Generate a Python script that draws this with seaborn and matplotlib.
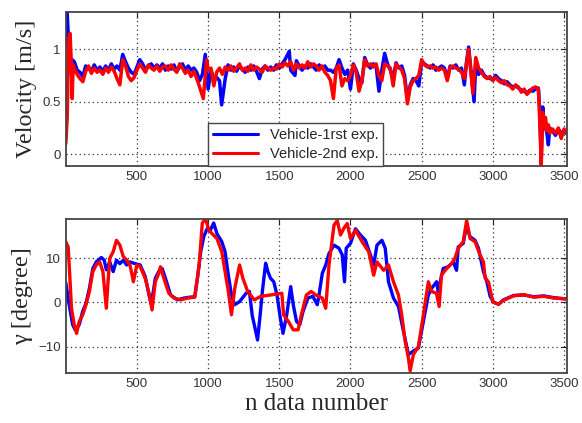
import pandas as pd
import matplotlib
matplotlib.use("Agg")
import matplotlib.pyplot as plt
import seaborn as sns

# velocity, 1st experiment (blue)
vel1_n = [0, 8, 15, 25, 35, 45,
          60, 80, 100, 120, 140, 160, 180, 200, 220, 240,
          260, 280, 300, 320, 340, 360, 380, 400, 420, 440,
          460, 480, 500, 520, 540, 560, 580, 600, 620, 640,
          660, 680, 700, 720, 740, 760, 780, 800, 820, 840,
          860, 880, 900, 920, 940, 960, 980, 1000, 1020, 1040,
          1060, 1080, 1095, 1120, 1140, 1160, 1180, 1200, 1220, 1240,
          1260, 1280, 1300, 1320, 1340, 1360, 1380, 1400, 1420, 1440,
          1460, 1480, 1500, 1520, 1540, 1570, 1580, 1610, 1620, 1640,
          1660, 1680, 1700, 1720, 1740, 1760, 1780, 1800, 1820, 1840,
          1860, 1880, 1900, 1920, 1940, 1960, 1980, 2000, 2020, 2040,
          2060, 2080, 2100, 2120, 2140, 2160, 2180, 2200, 2220, 2240,
          2260, 2280, 2300, 2320, 2340, 2360, 2380, 2400, 2420, 2440,
          2460, 2480, 2500, 2520, 2540, 2560, 2580, 2600, 2620, 2640,
          2660, 2680, 2700, 2720, 2740, 2760, 2780, 2800, 2815, 2830,
          2868, 2880, 2900, 2920, 2940, 2960, 2980, 3000, 3020, 3040,
          3060, 3080, 3100, 3120, 3140, 3160, 3180, 3200, 3220, 3240,
          3260, 3280, 3300, 3320, 3330, 3340, 3350, 3360, 3370, 3380,
          3390, 3400, 3420, 3440, 3460, 3480, 3500, 3515]
vel1 = [1.05, 1.40, 1.20, 0.95, 0.80, 0.90,
        0.88, 0.80, 0.78, 0.74, 0.84, 0.82, 0.79, 0.85, 0.80, 0.83,
        0.79, 0.84, 0.80, 0.86, 0.81, 0.84, 0.80, 0.95, 0.88, 0.82,
        0.78, 0.76, 0.83, 0.90, 0.86, 0.80, 0.84, 0.86, 0.82, 0.85,
        0.82, 0.86, 0.80, 0.84, 0.81, 0.85, 0.79, 0.83, 0.86, 0.80,
        0.84, 0.80, 0.82, 0.78, 0.70, 0.76, 0.95, 0.62, 0.80, 0.72,
        0.73, 0.70, 0.47, 0.72, 0.85, 0.80, 0.83, 0.79, 0.84, 0.81,
        0.78, 0.83, 0.80, 0.84, 0.79, 0.72, 0.81, 0.84, 0.80, 0.83,
        0.80, 0.85, 0.82, 0.86, 0.90, 0.98, 0.80, 0.75, 0.89, 0.84,
        0.80, 0.84, 0.82, 0.86, 0.83, 0.80, 0.85, 0.82, 0.84, 0.80,
        0.80, 0.78, 0.82, 0.90, 0.82, 0.76, 0.80, 0.62, 0.86, 0.80,
        0.72, 0.68, 0.92, 0.85, 0.82, 0.86, 0.84, 0.60, 0.80, 0.96,
        0.86, 0.80, 0.72, 0.87, 0.82, 0.84, 0.75, 0.52, 0.66, 0.72,
        0.70, 0.65, 0.88, 0.86, 0.84, 0.82, 0.85, 0.80, 0.82, 0.84,
        0.82, 0.72, 0.84, 0.82, 0.85, 0.80, 0.82, 0.66, 0.88, 1.02,
        0.50, 0.86, 0.76, 0.80, 0.75, 0.73, 0.72, 0.71, 0.75, 0.72,
        0.70, 0.67, 0.69, 0.66, 0.64, 0.65, 0.63, 0.61, 0.60, 0.58,
        0.61, 0.60, 0.62, 0.63, 0.40, -0.05, 0.45, 0.30, 0.25, 0.20,
        0.09, 0.25, 0.22, 0.18, 0.24, 0.20, 0.22, 0.20]

# velocity, 2nd experiment (red)
vel2_n = [0, 10, 20, 30, 38, 45, 52,
          60, 80, 100, 120, 140, 160, 180, 200, 220, 240,
          260, 280, 300, 320, 340, 360, 380, 400, 420, 440,
          460, 480, 500, 520, 540, 560, 580, 600, 620, 640,
          660, 680, 700, 720, 740, 760, 780, 800, 820, 840,
          860, 880, 900, 920, 940, 966, 990, 1000, 1020, 1040,
          1060, 1080, 1100, 1120, 1140, 1160, 1180, 1200, 1220, 1240,
          1260, 1280, 1300, 1320, 1340, 1360, 1380, 1400, 1420, 1440,
          1460, 1480, 1500, 1520, 1540, 1560, 1580, 1600, 1620, 1640,
          1660, 1680, 1700, 1720, 1740, 1760, 1780, 1800, 1820, 1840,
          1860, 1880, 1900, 1920, 1940, 1960, 1980, 2000, 2020, 2040,
          2060, 2080, 2100, 2120, 2140, 2160, 2180, 2200, 2220, 2240,
          2260, 2280, 2300, 2320, 2340, 2360, 2380, 2400, 2420, 2440,
          2460, 2480, 2500, 2520, 2540, 2560, 2580, 2600, 2620, 2640,
          2660, 2680, 2700, 2720, 2740, 2760, 2780, 2800, 2815, 2830,
          2860, 2880, 2900, 2920, 2940, 2960, 2980, 3000, 3020, 3040,
          3060, 3080, 3100, 3120, 3140, 3160, 3180, 3200, 3220, 3240,
          3260, 3280, 3300, 3320, 3330, 3340, 3350, 3360, 3370, 3380,
          3390, 3400, 3420, 3440, 3460, 3480, 3500, 3515]
vel2 = [0.10, 0.35, 1.10, 1.15, 0.90, 0.53, 0.85,
        0.82, 0.76, 0.72, 0.69, 0.79, 0.84, 0.77, 0.82, 0.78, 0.80,
        0.76, 0.82, 0.78, 0.83, 0.79, 0.72, 0.66, 0.90, 0.84, 0.74,
        0.70, 0.73, 0.80, 0.86, 0.82, 0.78, 0.85, 0.82, 0.80, 0.84,
        0.79, 0.83, 0.84, 0.80, 0.85, 0.81, 0.78, 0.86, 0.82, 0.77,
        0.80, 0.74, 0.79, 0.72, 0.64, 0.53, 0.90, 0.80, 0.82, 0.65,
        0.78, 0.82, 0.76, 0.83, 0.80, 0.84, 0.79, 0.82, 0.86, 0.80,
        0.82, 0.79, 0.85, 0.80, 0.83, 0.81, 0.78, 0.84, 0.82, 0.80,
        0.82, 0.81, 0.86, 0.83, 0.87, 0.84, 0.88, 0.80, 0.86, 0.82,
        0.85, 0.82, 0.88, 0.83, 0.86, 0.84, 0.80, 0.84, 0.78, 0.75,
        0.70, 0.53, 0.82, 0.85, 0.65, 0.72, 0.70, 0.75, 0.85, 0.78,
        0.60, 0.70, 0.90, 0.84, 0.86, 0.83, 0.86, 0.75, 0.70, 0.86,
        0.84, 0.82, 0.65, 0.86, 0.83, 0.80, 0.72, 0.48, 0.64, 0.70,
        0.72, 0.75, 0.90, 0.85, 0.83, 0.84, 0.82, 0.83, 0.80, 0.82,
        0.80, 0.70, 0.83, 0.84, 0.82, 0.81, 0.78, 0.72, 0.86, 1.00,
        0.58, 0.92, 0.82, 0.78, 0.74, 0.72, 0.74, 0.70, 0.73, 0.70,
        0.68, 0.70, 0.66, 0.65, 0.62, 0.66, 0.64, 0.59, 0.62, 0.57,
        0.60, 0.63, 0.64, 0.62, 0.30, -0.10, 0.40, 0.25, 0.35, 0.22,
        0.28, 0.20, 0.24, 0.20, 0.25, 0.15, 0.24, 0.21]

# steering angle gamma, 1st experiment (blue)
gam1_n = [0, 24, 48, 66, 95, 119, 142, 166, 190, 214, 250, 270, 285, 309,
          333, 356, 380, 404, 428, 451, 487, 523, 558, 582, 599, 615, 629,
          653, 677, 700, 736, 784, 831, 870, 906, 925, 948, 970, 993, 1016,
          1039, 1062, 1096, 1119, 1142, 1164, 1187, 1221, 1267, 1290, 1310,
          1324, 1347, 1365, 1381, 1404, 1420, 1438, 1461, 1484, 1507, 1526,
          1552, 1580, 1598, 1621, 1644, 1667, 1701, 1735, 1767, 1779, 1802,
          1826, 1849, 1884, 1919, 1942, 1958, 1970, 2000, 2035, 2070, 2105,
          2140, 2163, 2186, 2221, 2244, 2267, 2302, 2337, 2372, 2407, 2442,
          2477, 2512, 2547, 2570, 2605, 2616, 2651, 2686, 2722, 2745, 2757,
          2792, 2816, 2840, 2875, 2899, 2934, 2958, 2981, 3005, 3040, 3075,
          3146, 3217, 3288, 3358, 3429, 3515]
gam1 = [4.5, -0.5, -5.0, -6.2, -5.0, -2.0, -0.2, 3.2, 7.7, 9.2, 10.2, 9.6,
        7.4, 9.2, 7.0, 9.6, 8.8, 9.6, 8.5, 9.2, 8.8, 8.5, 5.9, 2.1, -0.2,
        2.5, 5.5, 7.0, 7.7, 5.5, 1.7, 0.6, 1.0, 1.2, 1.3, 5.5, 11.5, 15.0,
        16.7, 16.4, 18.0, 15.6, 13.8, 11.5, 6.2, 1.7, -0.5, 0.2, 2.1, 2.5,
        -3.0, -5.0, -8.5, -3.0, 2.5, 8.9, 7.0, 5.5, 4.7, 1.7, -3.5, -7.0,
        -2.8, 3.6, -0.5, -4.3, -5.0, -2.0, 1.0, 1.4, -0.5, 1.7, 6.6, 8.5,
        11.1, 13.0, 12.3, 10.8, 4.7, 12.3, 13.4, 16.7, 15.3, 14.1, 10.8,
        8.5, 13.0, 14.1, 12.3, 4.7, 1.0, -0.9, -6.5, -11.8, -11.0, -10.3,
        -4.3, 1.7, 3.2, 4.7, 2.5, 7.7, 8.1, 9.2, 7.3, 12.6, 13.4, 17.5,
        14.9, 14.1, 12.3, 7.0, 4.7, 1.4, 0.1, -0.4, 0.6, 1.6, 1.7, 1.3,
        1.5, 1.1, 0.8]

# steering angle gamma, 2nd experiment (red)
gam2_n = [0, 5, 17, 28, 40, 59, 76, 95, 119, 142, 166, 190, 214, 238, 261,
          285, 297, 309, 333, 356, 380, 404, 428, 451, 475, 499, 523, 558,
          582, 606, 629, 653, 665, 689, 724, 760, 808, 855, 906, 937, 959,
          982, 1005, 1028, 1062, 1096, 1119, 1142, 1164, 1187, 1221, 1244,
          1278, 1324, 1370, 1438, 1518, 1530, 1564, 1598, 1632, 1655, 1690,
          1724, 1756, 1802, 1826, 1849, 1884, 1907, 1930, 1953, 1977, 2000,
          2035, 2081, 2128, 2163, 2186, 2233, 2267, 2302, 2337, 2360, 2384,
          2407, 2419, 2442, 2477, 2512, 2547, 2570, 2604, 2623, 2639, 2675,
          2710, 2733, 2757, 2792, 2816, 2840, 2875, 2910, 2934, 2946, 2969,
          3000, 3040, 3075, 3146, 3217, 3288, 3358, 3429, 3515]
gam2 = [13.8, 13.4, 12.6, 6.2, -1.3, -5.0, -7.0, -4.3, -2.8, -0.5, 2.5,
        7.0, 8.5, 9.2, 7.0, -1.3, 4.7, 10.0, 11.5, 14.1, 13.0, 10.4, 9.6,
        8.5, 4.7, 8.5, 8.1, 5.5, 2.5, -1.7, 4.7, 6.6, 8.1, 5.5, 2.1, 1.0,
        0.6, 1.0, 1.2, 8.5, 18.0, 19.0, 16.4, 15.6, 14.5, 11.5, 7.0, 2.5,
        -2.8, 3.2, 8.5, 5.5, 2.5, 0.6, 1.4, 1.7, 2.1, -2.8, -4.3, -6.2,
        -6.2, -2.8, 1.7, 2.5, 1.7, 1.0, -1.3, 8.5, 17.5, 18.6, 15.3, 16.8,
        17.9, 14.5, 16.4, 13.8, 11.5, 6.2, 9.2, 7.3, 8.5, 4.7, 1.7, -2.8,
        -8.8, -12.6, -15.5, -11.8, -10.0, -2.8, 4.7, 2.5, 2.1, -0.9, 6.2,
        7.7, 8.8, 10.0, 12.3, 13.8, 18.6, 14.5, 13.8, 10.8, 9.2, 5.5, 4.7,
        0.1, -0.4, 0.5, 1.5, 1.8, 1.2, 1.4, 1.0, 0.8]

labels = ["Vehicle-1rst exp.", "Vehicle-2nd exp."]
colors = {labels[0]: "#0000ff", labels[1]: "#ff0000"}

vel_df = pd.concat([
    pd.DataFrame({"n": vel1_n, "val": vel1, "exp": labels[0]}),
    pd.DataFrame({"n": vel2_n, "val": vel2, "exp": labels[1]}),
], ignore_index=True)
gam_df = pd.concat([
    pd.DataFrame({"n": gam1_n, "val": gam1, "exp": labels[0]}),
    pd.DataFrame({"n": gam2_n, "val": gam2, "exp": labels[1]}),
], ignore_index=True)

sns.set_style("white")
plt.rcParams["font.family"] = ["Liberation Sans", "DejaVu Sans"]

fig = plt.figure(figsize=(5.82, 4.23), dpi=100)
ax1 = fig.add_axes([0.113, 0.608, 0.861, 0.364])
ax2 = fig.add_axes([0.113, 0.118, 0.861, 0.364])

sns.lineplot(data=vel_df, x="n", y="val", hue="exp", palette=colors,
             estimator=None, sort=False, lw=2.5, ax=ax1)
sns.lineplot(data=gam_df, x="n", y="val", hue="exp", palette=colors,
             estimator=None, sort=False, lw=2.4, ax=ax2, legend=False)

serif = ["Liberation Serif", "DejaVu Serif"]
for ax in (ax1, ax2):
    ax.set_xlim(0, 3520)
    ax.set_xticks([500, 1000, 1500, 2000, 2500, 3000, 3500])
    ax.grid(True, linestyle=(0, (1, 2.5)), color="#333333", lw=0.9)
    ax.tick_params(direction="in", length=4, top=True, right=True,
                   labelsize=9.5, colors="#222222", labelcolor="#333333")
    for s in ax.spines.values():
        s.set_color("#444444")
        s.set_linewidth(1.3)
    ax.set_xlabel("")

ax1.set_ylim(-0.11, 1.355)
ax1.set_yticks([0, 0.5, 1])
ax1.set_yticklabels(["0", "0.5", "1"])
ax1.set_ylabel("Velocity [m/s]", family=serif, fontsize=17.5, labelpad=4)

ax2.set_ylim(-16, 18.9)
ax2.set_yticks([-10, 0, 10])
ax2.set_ylabel("γ [degree]", family=serif, fontsize=17.5, labelpad=4)
ax2.set_xlabel("n data number", family=serif, fontsize=18, labelpad=2)

leg = ax1.legend(loc="lower left", bbox_to_anchor=(0.283, 0.0),
                 borderaxespad=0, fontsize=10.5, handlelength=3.1,
                 fancybox=False, framealpha=1, edgecolor="#444444",
                 borderpad=0.35, labelspacing=0.3)
leg.get_frame().set_linewidth(1.0)
leg.set_title(None)
for h in leg.get_lines():
    h.set_linewidth(2.2)

fig.savefig("out.png", dpi=100)
